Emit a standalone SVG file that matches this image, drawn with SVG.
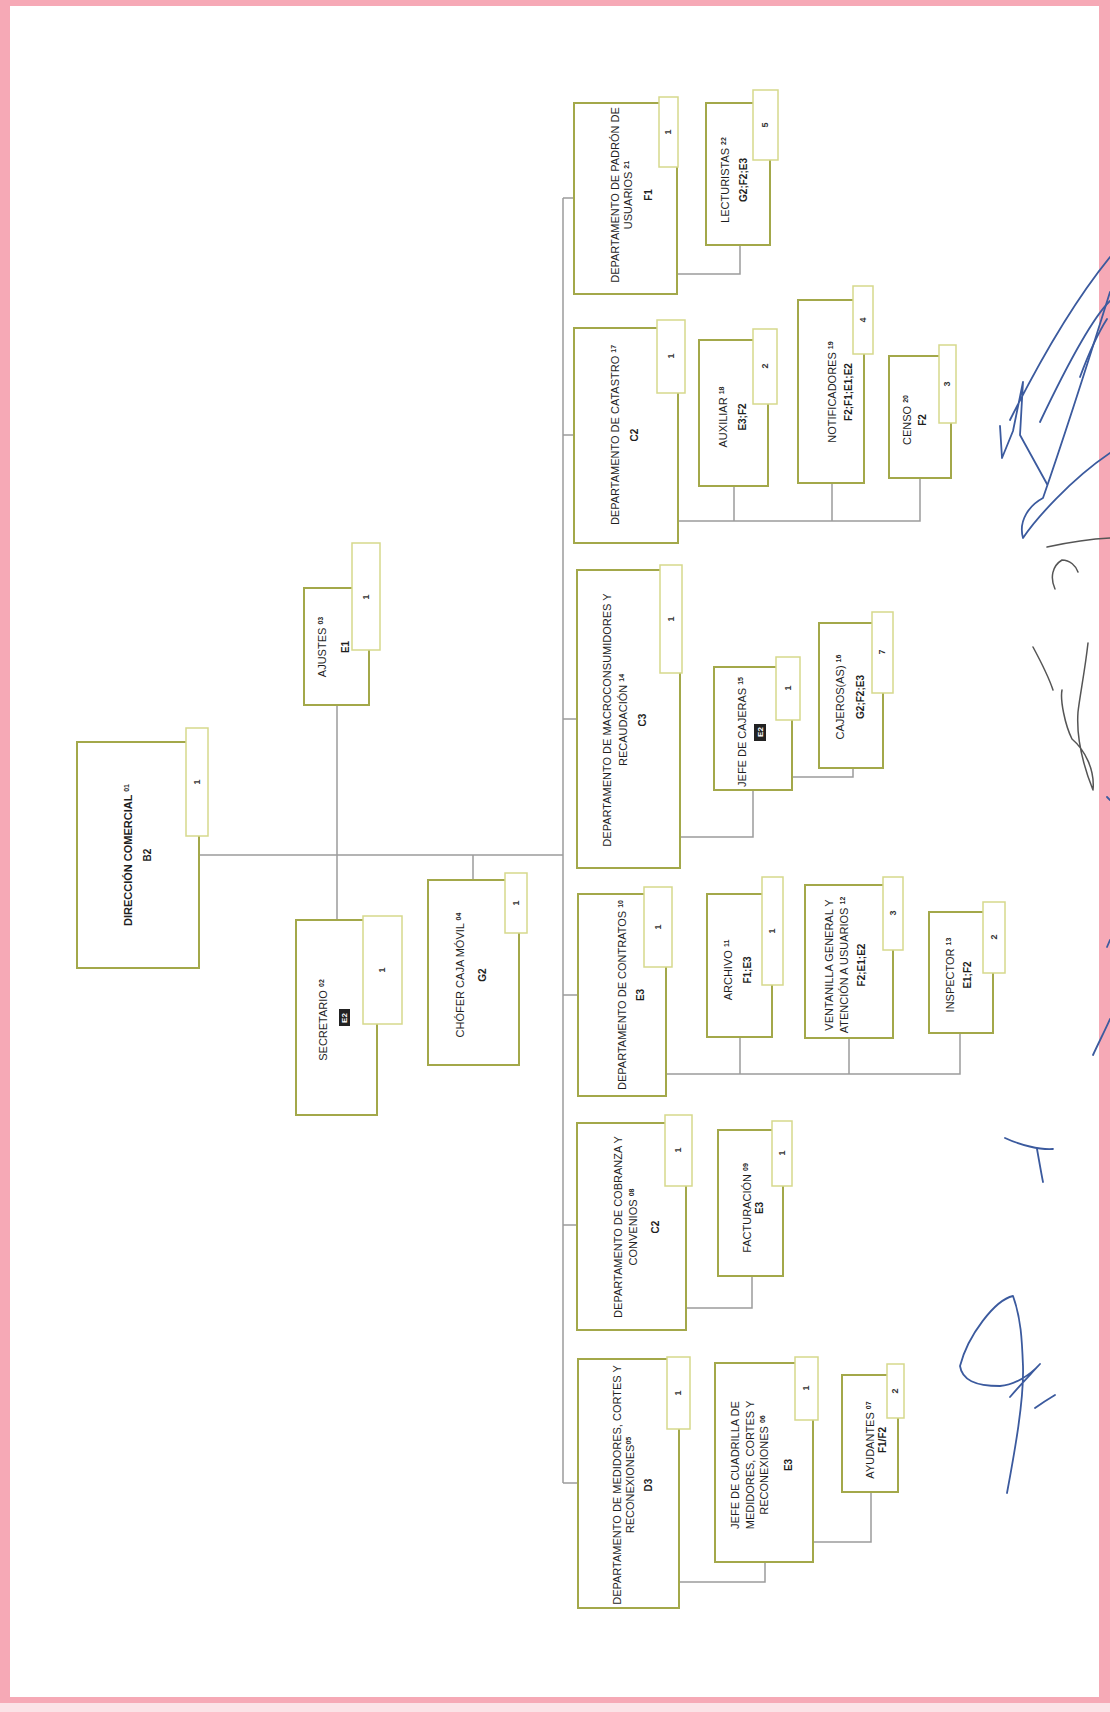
<svg xmlns="http://www.w3.org/2000/svg" width="1110" height="1712" viewBox="0 0 1110 1712">
<style>
.box{fill:#fff;stroke:#a3a84a;stroke-width:2}
.tab{fill:#fff;stroke:#d6d98c;stroke-width:1.5}
.con{fill:none;stroke:#9c9c9c;stroke-width:1.5}
.t{font-family:"Liberation Sans",Arial,sans-serif;font-size:11px;fill:#1e1e1e;text-anchor:middle}
.b{font-family:"Liberation Sans",Arial,sans-serif;font-size:10px;font-weight:bold;fill:#1e1e1e;text-anchor:middle}
.n{font-family:"Liberation Sans",Arial,sans-serif;font-size:9px;font-weight:bold;fill:#333;text-anchor:middle}
.sup{font-size:7px;font-weight:bold}
.sig{fill:none;stroke:#3b5a9e;stroke-width:1.8;stroke-linecap:round;stroke-linejoin:round}
.sig2{fill:none;stroke:#555;stroke-width:1.5;stroke-linecap:round;stroke-linejoin:round}
</style>
<rect x="0" y="0" width="1110" height="1712" fill="#f6a9b6"/>
<rect x="10" y="6" width="1089" height="1691" fill="#fff"/>
<rect x="0" y="1703" width="1110" height="9" fill="#fbe3e7"/>

<g id="connectors">
<path class="con" d="M199,855 H563 M563,198 V1483 M563,198 H574 M563,435 H574 M563,719 H577 M563,995 H578 M563,1225 H577 M563,1483 H578"/>
<path class="con" d="M337,705 V920 M473,855 V880"/>
<path class="con" d="M677,274 H740 V245"/>
<path class="con" d="M678,521 H920 V478 M734,486 V521 M832,483 V521"/>
<path class="con" d="M680,837 H753 V790 M792,777 H853 V768"/>
<path class="con" d="M666,1074 H960 V1033 M740,1037 V1074 M849,1038 V1074"/>
<path class="con" d="M686,1308 H752 V1276"/>
<path class="con" d="M679,1582 H765 V1562 M813,1542 H871 V1492"/>
</g>

<g id="n01">
<rect class="box" x="77" y="742" width="122" height="226"/>
<rect class="tab" x="186" y="728" width="22" height="108"/>
<text class="n" transform="translate(200,782) rotate(-90)">1</text>
<text class="t" style="font-weight:bold" transform="translate(132,855) rotate(-90)">DIRECCIÓN COMERCIAL <tspan class="sup" baseline-shift="super">01</tspan></text>
<text class="b" transform="translate(151,855) rotate(-90)">B2</text>
</g>

<g id="n02">
<rect class="box" x="296" y="920" width="81" height="195"/>
<rect class="tab" x="363" y="916" width="39" height="108"/>
<text class="n" transform="translate(385,970) rotate(-90)">1</text>
<text class="t" transform="translate(327,1020) rotate(-90)">SECRETARIO <tspan class="sup" baseline-shift="super">02</tspan></text>
<rect x="339" y="1009" width="11" height="17" fill="#222"/>
<text class="b" style="fill:#fff;font-size:8px" transform="translate(347,1018) rotate(-90)">E2</text>
</g>

<g id="n03">
<rect class="box" x="304" y="588" width="65" height="117"/>
<rect class="tab" x="352" y="543" width="28" height="107"/>
<text class="n" transform="translate(369,597) rotate(-90)">1</text>
<text class="t" transform="translate(326,647) rotate(-90)">AJUSTES <tspan class="sup" baseline-shift="super">03</tspan></text>
<text class="b" transform="translate(349,647) rotate(-90)">E1</text>
</g>

<g id="n04">
<rect class="box" x="428" y="880" width="91" height="185"/>
<rect class="tab" x="505" y="873" width="22" height="60"/>
<text class="n" transform="translate(519,903) rotate(-90)">1</text>
<text class="t" transform="translate(464,975) rotate(-90)">CHÓFER CAJA MÓVIL <tspan class="sup" baseline-shift="super">04</tspan></text>
<text class="b" transform="translate(486,975) rotate(-90)">G2</text>
</g>

<g id="n05">
<rect class="box" x="578" y="1359" width="101" height="249"/>
<rect class="tab" x="667" y="1357" width="23" height="72"/>
<text class="n" transform="translate(681,1393) rotate(-90)">1</text>
<text class="t" transform="translate(621,1485) rotate(-90)">DEPARTAMENTO DE MEDIDORES, CORTES Y</text>
<text class="t" transform="translate(634,1485) rotate(-90)">RECONEXIONES<tspan class="sup" baseline-shift="super">05</tspan></text>
<text class="b" transform="translate(652,1485) rotate(-90)">D3</text>
</g>

<g id="n06">
<rect class="box" x="715" y="1363" width="98" height="199"/>
<rect class="tab" x="795" y="1357" width="23" height="63"/>
<text class="n" transform="translate(809,1388) rotate(-90)">1</text>
<text class="t" transform="translate(739,1465) rotate(-90)">JEFE DE CUADRILLA DE</text>
<text class="t" transform="translate(754,1465) rotate(-90)">MEDIDORES, CORTES Y</text>
<text class="t" transform="translate(768,1465) rotate(-90)">RECONEXIONES <tspan class="sup" baseline-shift="super">06</tspan></text>
<text class="b" transform="translate(792,1465) rotate(-90)">E3</text>
</g>

<g id="n07">
<rect class="box" x="842" y="1375" width="56" height="117"/>
<rect class="tab" x="887" y="1364" width="17" height="54"/>
<text class="n" transform="translate(898,1391) rotate(-90)">2</text>
<text class="t" transform="translate(874,1440) rotate(-90)">AYUDANTES <tspan class="sup" baseline-shift="super">07</tspan></text>
<text class="b" transform="translate(886,1440) rotate(-90)">F1/F2</text>
</g>

<g id="n08">
<rect class="box" x="577" y="1123" width="109" height="207"/>
<rect class="tab" x="665" y="1115" width="27" height="71"/>
<text class="n" transform="translate(681,1150) rotate(-90)">1</text>
<text class="t" transform="translate(622,1227) rotate(-90)">DEPARTAMENTO DE COBRANZA Y</text>
<text class="t" transform="translate(637,1227) rotate(-90)">CONVENIOS <tspan class="sup" baseline-shift="super">08</tspan></text>
<text class="b" transform="translate(659,1227) rotate(-90)">C2</text>
</g>

<g id="n09">
<rect class="box" x="718" y="1130" width="65" height="146"/>
<rect class="tab" x="772" y="1121" width="20" height="65"/>
<text class="n" transform="translate(785,1153) rotate(-90)">1</text>
<text class="t" transform="translate(751,1208) rotate(-90)">FACTURACIÓN <tspan class="sup" baseline-shift="super">09</tspan></text>
<text class="b" transform="translate(763,1208) rotate(-90)">E3</text>
</g>

<g id="n10">
<rect class="box" x="578" y="894" width="88" height="202"/>
<rect class="tab" x="644" y="887" width="28" height="80"/>
<text class="n" transform="translate(661,927) rotate(-90)">1</text>
<text class="t" transform="translate(626,995) rotate(-90)">DEPARTAMENTO DE CONTRATOS <tspan class="sup" baseline-shift="super">10</tspan></text>
<text class="b" transform="translate(644,995) rotate(-90)">E3</text>
</g>

<g id="n11">
<rect class="box" x="707" y="894" width="65" height="143"/>
<rect class="tab" x="762" y="877" width="21" height="108"/>
<text class="n" transform="translate(775,931) rotate(-90)">1</text>
<text class="t" transform="translate(732,970) rotate(-90)">ARCHIVO <tspan class="sup" baseline-shift="super">11</tspan></text>
<text class="b" transform="translate(751,970) rotate(-90)">F1;E3</text>
</g>

<g id="n12">
<rect class="box" x="805" y="885" width="88" height="153"/>
<rect class="tab" x="883" y="877" width="20" height="73"/>
<text class="n" transform="translate(896,913) rotate(-90)">3</text>
<text class="t" transform="translate(833,965) rotate(-90)">VENTANILLA GENERAL Y</text>
<text class="t" transform="translate(848,965) rotate(-90)">ATENCIÓN A USUARIOS <tspan class="sup" baseline-shift="super">12</tspan></text>
<text class="b" transform="translate(865,965) rotate(-90)">F2;E1;E2</text>
</g>

<g id="n13">
<rect class="box" x="929" y="912" width="64" height="121"/>
<rect class="tab" x="983" y="902" width="22" height="71"/>
<text class="n" transform="translate(997,937) rotate(-90)">2</text>
<text class="t" transform="translate(954,975) rotate(-90)">INSPECTOR <tspan class="sup" baseline-shift="super">13</tspan></text>
<text class="b" transform="translate(971,975) rotate(-90)">E1;F2</text>
</g>

<g id="n14">
<rect class="box" x="577" y="570" width="103" height="298"/>
<rect class="tab" x="660" y="565" width="22" height="108"/>
<text class="n" transform="translate(674,619) rotate(-90)">1</text>
<text class="t" transform="translate(611,720) rotate(-90)">DEPARTAMENTO DE MACROCONSUMIDORES Y</text>
<text class="t" transform="translate(627,720) rotate(-90)">RECAUDACIÓN <tspan class="sup" baseline-shift="super">14</tspan></text>
<text class="b" transform="translate(646,720) rotate(-90)">C3</text>
</g>

<g id="n15">
<rect class="box" x="714" y="667" width="78" height="123"/>
<rect class="tab" x="776" y="657" width="24" height="63"/>
<text class="n" transform="translate(791,688) rotate(-90)">1</text>
<text class="t" transform="translate(746,732) rotate(-90)">JEFE DE CAJERAS <tspan class="sup" baseline-shift="super">15</tspan></text>
<rect x="754" y="724" width="12" height="17" fill="#222"/>
<text class="b" style="fill:#fff;font-size:8px" transform="translate(763,732) rotate(-90)">E2</text>
</g>

<g id="n16">
<rect class="box" x="819" y="623" width="64" height="145"/>
<rect class="tab" x="872" y="612" width="21" height="81"/>
<text class="n" transform="translate(885,652) rotate(-90)">7</text>
<text class="t" transform="translate(844,697) rotate(-90)">CAJEROS(AS) <tspan class="sup" baseline-shift="super">16</tspan></text>
<text class="b" transform="translate(864,697) rotate(-90)">G2;F2;E3</text>
</g>

<g id="n17">
<rect class="box" x="574" y="328" width="104" height="215"/>
<rect class="tab" x="657" y="320" width="28" height="73"/>
<text class="n" transform="translate(674,356) rotate(-90)">1</text>
<text class="t" transform="translate(619,435) rotate(-90)">DEPARTAMENTO DE CATASTRO <tspan class="sup" baseline-shift="super">17</tspan></text>
<text class="b" transform="translate(638,435) rotate(-90)">C2</text>
</g>

<g id="n18">
<rect class="box" x="699" y="340" width="69" height="146"/>
<rect class="tab" x="753" y="329" width="24" height="75"/>
<text class="n" transform="translate(768,366) rotate(-90)">2</text>
<text class="t" transform="translate(727,417) rotate(-90)">AUXILIAR <tspan class="sup" baseline-shift="super">18</tspan></text>
<text class="b" transform="translate(746,417) rotate(-90)">E3;F2</text>
</g>

<g id="n19">
<rect class="box" x="798" y="300" width="66" height="183"/>
<rect class="tab" x="853" y="286" width="20" height="68"/>
<text class="n" transform="translate(866,320) rotate(-90)">4</text>
<text class="t" transform="translate(836,392) rotate(-90)">NOTIFICADORES <tspan class="sup" baseline-shift="super">19</tspan></text>
<text class="b" transform="translate(852,392) rotate(-90)">F2;F1;E1;E2</text>
</g>

<g id="n20">
<rect class="box" x="889" y="356" width="62" height="122"/>
<rect class="tab" x="939" y="345" width="17" height="78"/>
<text class="n" transform="translate(950,384) rotate(-90)">3</text>
<text class="t" transform="translate(911,420) rotate(-90)">CENSO <tspan class="sup" baseline-shift="super">20</tspan></text>
<text class="b" transform="translate(926,420) rotate(-90)">F2</text>
</g>

<g id="n21">
<rect class="box" x="574" y="103" width="103" height="191"/>
<rect class="tab" x="659" y="97" width="19" height="70"/>
<text class="n" transform="translate(671,132) rotate(-90)">1</text>
<text class="t" transform="translate(619,195) rotate(-90)">DEPARTAMENTO DE PADRÓN DE</text>
<text class="t" transform="translate(632,195) rotate(-90)">USUARIOS <tspan class="sup" baseline-shift="super">21</tspan></text>
<text class="b" transform="translate(652,195) rotate(-90)">F1</text>
</g>

<g id="n22">
<rect class="box" x="706" y="103" width="64" height="142"/>
<rect class="tab" x="753" y="90" width="25" height="70"/>
<text class="n" transform="translate(768,125) rotate(-90)">5</text>
<text class="t" transform="translate(729,180) rotate(-90)">LECTURISTAS <tspan class="sup" baseline-shift="super">22</tspan></text>
<text class="b" transform="translate(747,180) rotate(-90)">G2;F2;E3</text>
</g>

<g id="signatures">
<path class="sig" d="M1110,257 C1075,300 1040,360 1010,420 M1000,426 L1002,458 L1013,431 L1023,382 L1020,435 L1047,484"/>
<path class="sig" d="M1110,453 C1070,480 1035,520 1023,538 C1018,520 1030,505 1043,498 C1070,420 1095,340 1110,292"/>
<path class="sig" d="M1040,422 C1060,380 1090,320 1110,301 M1080,377 C1090,350 1100,330 1107,319"/>
<path class="sig2" d="M1055,589 C1050,578 1052,566 1062,560 C1070,560 1076,566 1078,572 M1047,547 C1070,542 1090,539 1110,538"/>
<path class="sig2" d="M1033,647 C1040,660 1048,675 1053,690 M1088,643 C1085,670 1080,695 1078,712 C1076,740 1085,770 1093,790 C1095,770 1085,750 1072,739 C1065,725 1060,700 1062,690"/>
<path class="sig" d="M1107,797 L1110,800 M1093,1055 C1100,1040 1106,1028 1110,1019 M1107,947 L1110,940"/>
<path class="sig" d="M1005,1138 C1020,1145 1040,1150 1053,1149 M1037,1149 C1039,1160 1041,1172 1043,1182"/>
<path class="sig" d="M1007,1493 C1015,1450 1024,1400 1023,1366 C1022,1340 1021,1318 1013,1296 C995,1300 968,1335 960,1366 C962,1380 975,1386 1000,1386 C1015,1385 1030,1375 1040,1364 M1010,1397 C1020,1385 1030,1375 1040,1364 M1035,1408 C1042,1403 1050,1398 1055,1395"/>
</g>
</svg>
